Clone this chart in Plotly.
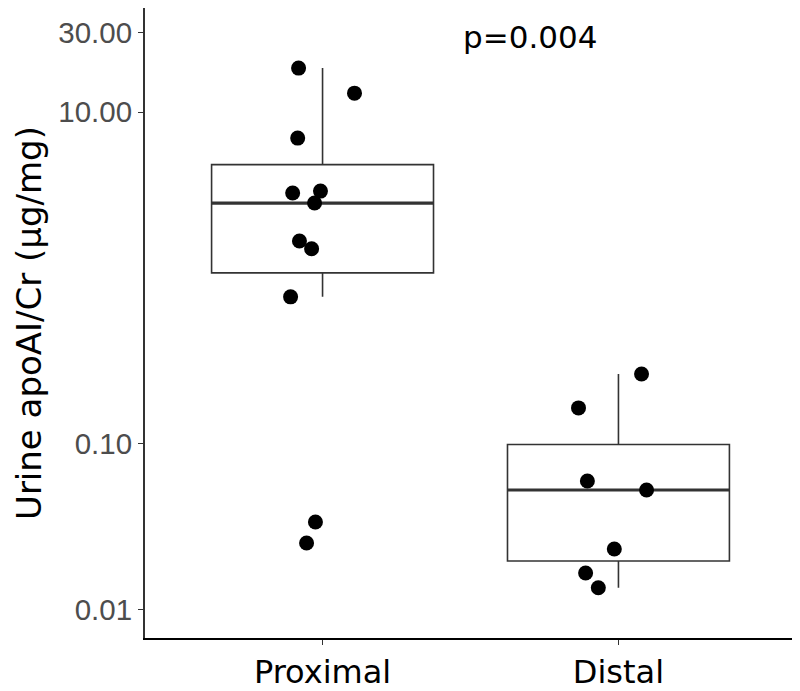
import numpy as np
import plotly.graph_objects as go

# ---- data ----
categories = ["Proximal", "Distal"]
proximal_values = [18.4, 13.0, 6.97, 3.25, 3.34, 2.83, 1.67, 1.50, 0.77, 0.0339, 0.0253]
proximal_jitter = [-0.081, 0.108, -0.084, -0.101, -0.007, -0.027, -0.078, -0.037, -0.108, -0.024, -0.054]
distal_values = [0.264, 0.165, 0.0598, 0.0528, 0.0233, 0.0167, 0.0136]
distal_jitter = [0.078, -0.135, -0.105, 0.095, -0.014, -0.111, -0.068]
y_tick_vals = [0.01, 0.1, 10, 30]
y_tick_text = ["0.01", "0.10", "10.00", "30.00"]
p_label = "p=0.004"
y_title = "Urine apoAI/Cr (µg/mg)"

groups = [proximal_values, distal_values]
jitters = [proximal_jitter, distal_jitter]

BOX_W = 0.75
# the page body adds an 8px offset, so the figure is drawn 8px smaller
W, H = 792, 683
ML, MR, MT, MB = 137, 4, 0, 53
fig = go.Figure()

def stats_log(vals):
    lv = np.log10(np.array(vals, dtype=float))
    q1, med, q3 = np.percentile(lv, [25, 50, 75])
    iqr = q3 - q1
    lo = lv[lv >= q1 - 1.5 * iqr].min()
    hi = lv[lv <= q3 + 1.5 * iqr].max()
    return [10 ** v for v in (q1, med, q3, lo, hi)]

for i, (vals, jit) in enumerate(zip(groups, jitters)):
    pos = i + 1
    q1, med, q3, lo, hi = stats_log(vals)
    fig.add_trace(go.Box(
        x=[pos], q1=[q1], median=[med], q3=[q3], lowerfence=[lo], upperfence=[hi],
        width=BOX_W, whiskerwidth=0, boxpoints=False,
        fillcolor="white", line=dict(color="#333333", width=1.6),
        showlegend=False, hoverinfo="skip",
    ))
    # thicker median line, as in ggplot
    fig.add_trace(go.Scatter(
        x=[pos - BOX_W / 2, pos + BOX_W / 2], y=[med, med], mode="lines",
        line=dict(color="#333333", width=3.2), showlegend=False, hoverinfo="skip",
    ))
    fig.add_trace(go.Scatter(
        x=[pos + j for j in jit], y=vals, mode="markers",
        marker=dict(color="black", size=15, line=dict(width=0)),
        showlegend=False,
    ))

fig.add_annotation(
    x=1.70, y=1.45, xref="x", yref="y", text=p_label, showarrow=False,
    font=dict(family="DejaVu Sans", size=31, color="black"),
    xanchor="center", yanchor="middle",
)

plot_w = W - ML - MR
fig.add_annotation(
    x=(21 - ML) / plot_w, y=0.5, xref="paper", yref="paper", text=y_title,
    textangle=-90, showarrow=False, borderpad=0,
    font=dict(family="DejaVu Sans", size=34, color="black"),
    xanchor="center", yanchor="middle",
)

fig.update_layout(
    width=W, height=H,
    margin=dict(l=ML, r=MR, t=MT, b=MB, pad=0),
    paper_bgcolor="white", plot_bgcolor="white",
    xaxis=dict(
        range=[0.4, 2.6], tickvals=[1, 2], ticktext=categories, automargin=False,
        showgrid=False, zeroline=False, showline=True, linecolor="black", linewidth=2,
        ticks="outside", ticklen=5, tickcolor="#333333", tickwidth=1.2,
        tickfont=dict(family="DejaVu Sans", size=32, color="black"),
    ),
    yaxis=dict(
        type="log", range=[-2.169, 1.627], automargin=False,
        tickvals=y_tick_vals, ticktext=y_tick_text,
        showgrid=False, zeroline=False, showline=True, linecolor="#333333", linewidth=2,
        ticks="outside", ticklen=5, tickcolor="#333333", tickwidth=1.2,
        tickfont=dict(family="Liberation Sans", size=29.5, color="#4D4D4D"),
    ),
)

fig.write_html("out.html")
